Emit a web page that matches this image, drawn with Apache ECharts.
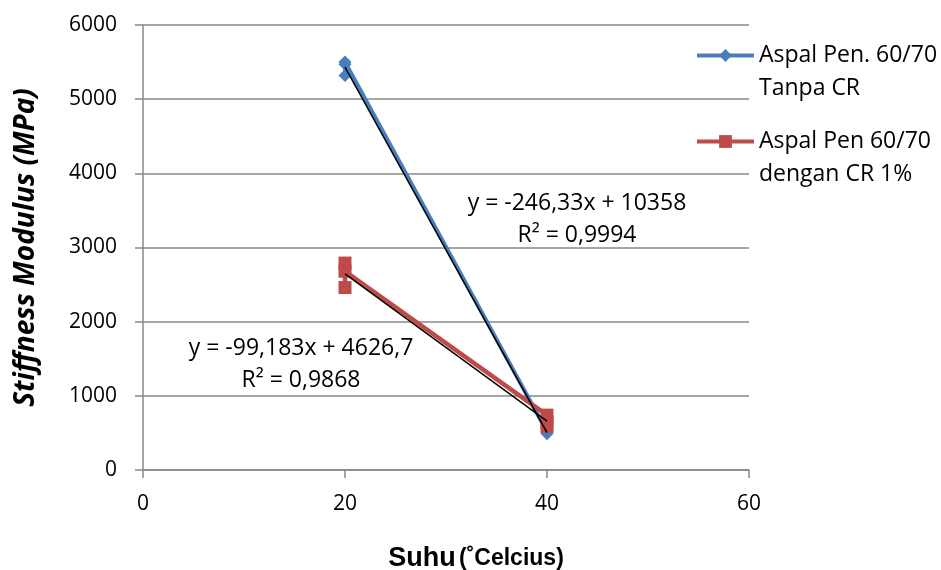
<!DOCTYPE html>
<html>
<head>
<meta charset="utf-8">
<script src="https://cdn.jsdelivr.net/npm/echarts@6/dist/echarts.min.js"></script>
<style>
    html, body { margin: 0; padding: 0; background: #fff; }
    #chart { width: 941px; height: 570px; }
</style>
</head>
<body>
<div id="chart"></div>
<script>
// data
const suhu = [20, 20, 20, 40, 40, 40];
const tanpaCR = [5320, 5470, 5500, 515, 510, 490];
const denganCR = [2460, 2790, 2680, 740, 645, 592];
const seriesNames = ['Aspal Pen. 60/70 Tanpa CR', 'Aspal Pen 60/70 dengan CR 1%'];
const legendLines = [['Aspal Pen. 60/70', 'Tanpa CR'], ['Aspal Pen 60/70', 'dengan CR 1%']];

// trendline (linear) as printed on the chart
const trendSlope = [-246.33, -99.183];
const trendIntercept = [10358, 4626.7];
const trendLabel = [
    ['y = -246,33x + 10358', 'R² = 0,9994'],
    ['y = -99,183x + 4626,7', 'R² = 0,9868']
];
const trendRange = [20, 40];

const font = 'Open Sans';
const gridColor = '#888888';
const blue = '#4A7EBB';
const red = '#BE4B48';

function pairs(xs, ys) {
    return xs.map((x, i) => [x, ys[i]]);
}
function trend(k) {
    return trendRange.map(x => [x, trendSlope[k] * x + trendIntercept[k]]);
}

const chart = echarts.init(document.getElementById('chart'));

// legend: a blank first line so the icon sits next to the first text line
const legendBase = {
    orient: 'vertical',
    left: 695,
    padding: 0,
    itemWidth: 57,
    itemHeight: 16,
    itemGap: 0,
    selectedMode: false,
    formatter: name => ' \n' + legendLines[seriesNames.indexOf(name)].join('\n'),
    lineStyle: { width: 4 },
    textStyle: {
        fontFamily: font,
        fontSize: 23,
        color: '#000',
        lineHeight: 33
    }
};

chart.setOption({
    animation: false,
    backgroundColor: '#fff',
    grid: { left: 143, right: 192, top: 25, bottom: 100, outerBoundsMode: 'none' },
    legend: [
        Object.assign({}, legendBase, { top: 6, data: [seriesNames[0]] }),
        Object.assign({}, legendBase, { top: 92, data: [seriesNames[1]] })
    ],
    xAxis: {
        type: 'value',
        min: 0,
        max: 60,
        interval: 20,
        name: '{s|}{b|Suhu} {r|(˚Celcius)}',
        nameLocation: 'middle',
        nameGap: 75,
        nameTextStyle: {
            rich: {
                s: { width: 60 },
                b: { fontFamily: 'Liberation Sans', fontWeight: 'bold', fontSize: 27, color: '#000' },
                r: { fontFamily: 'Liberation Sans', fontWeight: 'bold', fontSize: 23, color: '#000' }
            }
        },
        axisLine: { lineStyle: { color: gridColor, width: 1.5 } },
        axisTick: { show: true, length: 8, lineStyle: { color: gridColor, width: 1.5 } },
        axisLabel: { margin: 24, fontFamily: font, fontSize: 21, color: '#000', formatter: v => String(v) },
        splitLine: { show: false }
    },
    yAxis: {
        type: 'value',
        min: 0,
        max: 6000,
        interval: 1000,
        name: 'Stiffness Modulus (MPa)',
        nameLocation: 'middle',
        nameGap: 103,
        nameTextStyle: {
            fontFamily: font,
            fontSize: 28,
            fontWeight: 'bold',
            fontStyle: 'italic',
            color: '#000'
        },
        axisLine: { show: true, lineStyle: { color: gridColor, width: 1.5 } },
        axisTick: { show: true, length: 8, lineStyle: { color: gridColor, width: 1.5 } },
        axisLabel: { margin: 26, fontFamily: font, fontSize: 21, color: '#000', formatter: v => String(v) },
        splitLine: { lineStyle: { color: gridColor, width: 1.5 } }
    },
    series: [
        {
            name: seriesNames[0],
            type: 'line',
            data: pairs(suhu, tanpaCR),
            symbol: 'diamond',
            symbolSize: 13,
            itemStyle: { color: blue },
            lineStyle: { color: blue, width: 4 },
            z: 2
        },
        {
            name: seriesNames[1],
            type: 'line',
            data: pairs(suhu, denganCR),
            symbol: 'rect',
            symbolSize: 13,
            itemStyle: { color: red },
            lineStyle: { color: red, width: 4.5 },
            z: 3
        },
        {
            name: 'trend1',
            type: 'line',
            data: trend(0),
            symbol: 'none',
            lineStyle: { color: '#000', width: 1.5 },
            z: 4
        },
        {
            name: 'trend2',
            type: 'line',
            data: trend(1),
            symbol: 'none',
            lineStyle: { color: '#000', width: 1.5 },
            z: 4
        }
    ],
    graphic: [
        {
            type: 'text',
            z: 10,
            style: {
                text: trendLabel[0].join('\n'), x: 577, y: 187,
                align: 'center', fontFamily: font, fontSize: 23, lineHeight: 32,
                fill: '#000'
            }
        },
        {
            type: 'text',
            z: 10,
            style: {
                text: trendLabel[1].join('\n'), x: 301, y: 332,
                align: 'center', fontFamily: font, fontSize: 23, lineHeight: 32,
                fill: '#000'
            }
        }
    ]
});
</script>
</body>
</html>
